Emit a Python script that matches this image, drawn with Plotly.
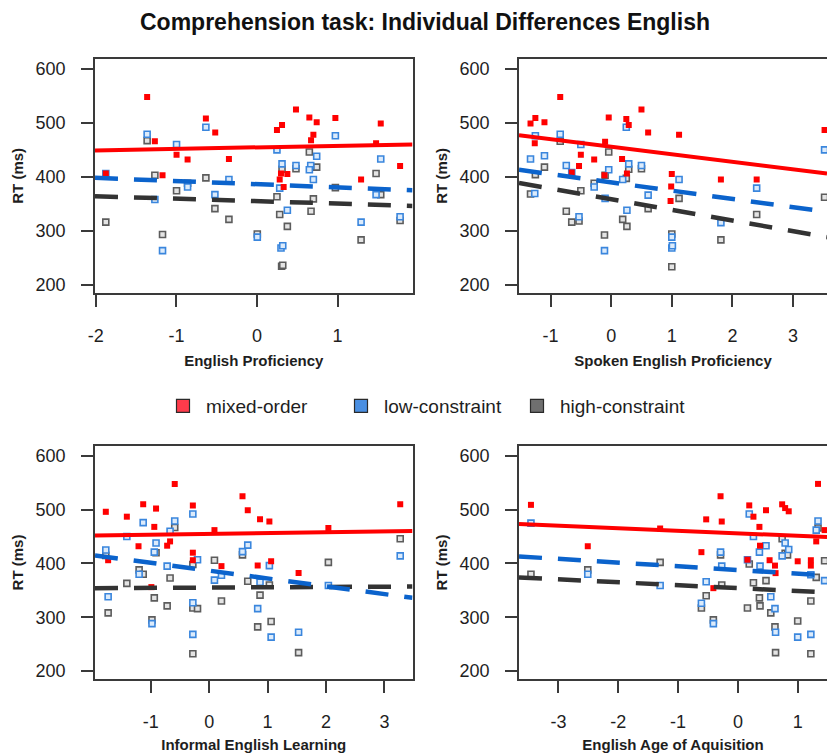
import plotly.graph_objects as go

W, H = 827, 753
FONT = "Liberation Sans, Arial, sans-serif"

# ---------------- data ----------------
title = "Comprehension task: Individual Differences English"
series_names = ["mixed-order", "low-constraint", "high-constraint"]
x_titles = ["English Proficiency", "Spoken English Proficiency",
            "Informal English Learning", "English Age of Aquisition"]
y_title = "RT (ms)"
y_ticks = [200, 300, 400, 500, 600]
x_ticks = [[-2, -1, 0, 1], [-1, 0, 1, 2, 3], [-1, 0, 1, 2, 3], [-3, -2, -1, 0, 1]]
x_ranges = [[-2.01, 1.93], [-1.52, 3.56], [-1.955, 3.48], [-3.66, 1.49]]
y_range = [185, 618.5]

# Panel 1: English Proficiency
p1_red_x = [-1.363, -1.267, -0.634, -0.518, -0.998, -0.861, -1.172, -0.348, -1.876, 0.248, 0.311, 0.484, 0.650,
            0.741, 0.700, 0.671, 0.973, 1.536, 1.478, 1.776, 1.292, 0.282, 0.298, 0.377, 0.331]
p1_red_y = [548, 466, 508, 482, 441, 432, 403, 433, 406, 487, 496, 525, 510, 501, 478, 468, 509, 499, 462, 420,
            395, 395, 406, 405, 381]
p1_blue_x = [-1.876, -1.363, -0.998, -0.634, -0.861, -1.267, -0.522, -0.348, -1.172, 0.004, 0.248, 0.311, 0.484,
             0.667, 0.650, 0.741, 0.700, 0.973, 1.536, 1.478, 1.776, 1.292, 0.282, 0.377, 0.298, 0.320]
p1_blue_y = [406, 479, 460, 492, 381, 358, 367, 395, 263, 288, 450, 424, 421, 421, 413, 438, 395, 476, 433, 367,
             326, 316, 379, 338, 268, 272]
p1_gray_x = [-1.363, -1.267, -1.876, -1.172, -0.861, -0.998, -0.634, -0.522, -0.348, 0.004, 0.248, 0.311, 0.282,
             0.377, 0.306, 0.320, 0.484, 0.650, 0.741, 0.700, 0.671, 0.973, 1.478, 1.536, 1.776, 1.292]
p1_gray_y = [467, 403, 316, 293, 388, 374, 398, 341, 321, 294, 363, 414, 330, 308, 234, 236, 415, 446, 418, 359,
             336, 380, 406, 367, 319, 283]
p1_fit_x = [-2.01, 1.93]
p1_fit_red = [449, 460]
p1_fit_blue = [398, 375]
p1_fit_gray = [364, 346]

# Panel 2: Spoken English Proficiency
p2_red_x = [-0.84, -1.33, -1.25, -1.10, -1.26, -0.50, -0.53, -0.28, -0.65, -0.10, -0.04, -0.11, 0.25, 0.29, 0.18,
            0.26, 0.50, 0.61, 1.12, 1.00, 0.99, 0.98, 1.81, 2.40, 3.52]
p2_red_y = [548, 499, 509, 501, 462, 441, 420, 432, 408, 465, 510, 403, 507, 496, 433, 406, 525, 482, 478, 405,
            382, 355, 395, 395, 487]
p2_blue_x = [-1.33, -1.25, -1.10, -1.26, -0.84, -0.74, -0.65, -0.50, -0.53, -0.28, -0.04, -0.10, -0.11, 0.25, 0.29,
             0.19, 0.26, 0.50, 0.61, 1.12, 1.00, 1.00, 1.01, 1.81, 2.40, 3.52]
p2_blue_y = [433, 476, 439, 369, 479, 421, 408, 460, 326, 381, 413, 360, 263, 492, 424, 395, 338, 421, 366, 395,
             288, 268, 272, 315, 379, 450]
p2_gray_x = [-1.33, -1.25, -1.10, -0.84, -0.74, -0.65, -0.53, -0.50, -0.28, -0.04, -0.11, -0.10, 0.19, 0.26, 0.25,
             0.29, 0.50, 0.61, 1.12, 1.00, 1.00, 1.81, 2.40, 3.52]
p2_gray_y = [368, 404, 418, 466, 336, 316, 318, 374, 388, 446, 292, 403, 321, 308, 397, 414, 415, 341, 360, 294,
             233, 283, 330, 362]
p2_fit_x = [-1.52, 3.56]
p2_fit_red = [477, 406]
p2_fit_blue = [413, 335]
p2_fit_gray = [388.5, 288]

# Panel 3: Informal English Learning
p3_red_x = [-1.77, -1.41, -1.13, -0.91, -0.94, -1.21, -0.59, -0.67, -0.72, -0.28, -0.28, -0.28, -1.73, 0.09, 0.21,
            0.57, 0.66, 0.87, 1.03, 0.83, 1.06, 1.53, 2.04, 3.27, -0.99]
p3_red_y = [496, 487, 510, 502, 468, 432, 548, 441, 433, 508, 420, 406, 406, 462, 395, 525, 499, 482, 478, 396,
            404, 382, 466, 510, 356]
p3_blue_x = [-1.77, -1.73, -1.41, -1.13, -1.20, -0.91, -0.94, -0.98, -0.67, -0.59, -0.72, -0.28, -0.20, -0.28,
             -0.28, 0.09, 0.21, 0.66, 0.57, 0.87, 0.83, 1.03, 1.06, 1.53, 2.04, 3.27]
p3_blue_y = [425, 338, 450, 476, 380, 438, 421, 288, 460, 479, 395, 492, 407, 327, 268, 369, 378, 434, 422, 365,
             316, 396, 263, 272, 359, 414]
p3_gray_x = [-1.77, -1.73, -1.41, -1.20, -1.13, -0.94, -0.98, -0.91, -0.72, -0.67, -0.59, -0.28, -0.28, -0.20,
             -0.28, 0.09, 0.21, 0.57, 0.66, 0.87, 0.83, 1.03, 1.06, 1.53, 2.04, 3.27]
p3_gray_y = [415, 308, 363, 388, 380, 336, 295, 420, 321, 373, 467, 398, 317, 316, 232, 406, 330, 416, 367, 341,
             282, 360, 292, 234, 402, 446]
p3_fit_x = [-1.955, 3.48]
p3_fit_red = [452, 460.5]
p3_fit_blue = [415, 336]
p3_fit_gray = [354, 357]

# Panel 4: English Age of Aquisition
p4_red_x = [-3.46, -2.51, -1.30, -0.53, -0.61, -0.29, -0.27, -0.41, 0.19, 0.26, 0.47, 0.36, 0.37, 0.16, 0.53,
            0.62, 0.63, 0.74, 0.79, 0.85, 1.00, 1.22, 1.22, 1.34, 1.31, 1.45]
p4_red_y = [509, 432, 465, 482, 421, 525, 478, 354, 508, 487, 499, 468, 433, 407, 406, 396, 382, 510, 503, 497,
            404, 406, 396, 548, 441, 462]
p4_blue_x = [-3.46, -2.51, -1.30, -0.61, -0.53, -0.41, -0.29, -0.27, 0.19, 0.26, 0.16, 0.36, 0.47, 0.37, 0.55,
             0.62, 0.63, 0.74, 0.79, 0.85, 1.00, 1.22, 1.22, 1.34, 1.31, 1.45]
p4_blue_y = [475, 380, 359, 326, 366, 288, 421, 395, 492, 450, 407, 421, 433, 395, 338, 316, 272, 414, 438, 426,
             263, 268, 379, 479, 462, 368]
p4_gray_x = [-3.46, -2.51, -1.30, -0.61, -0.53, -0.41, -0.29, -0.27, 0.16, 0.19, 0.26, 0.36, 0.37, 0.47, 0.55,
             0.62, 0.63, 0.74, 0.79, 0.83, 1.00, 1.22, 1.22, 1.31, 1.34, 1.45]
p4_gray_y = [380, 388, 402, 317, 340, 295, 416, 360, 317, 399, 364, 336, 321, 368, 308, 282, 234, 446, 419, 416,
             293, 232, 330, 374, 466, 405]
p4_fit_x = [-3.66, 1.49]
p4_fit_red = [473.5, 449]
p4_fit_blue = [413, 377.5]
p4_fit_gray = [374, 346]

panels = [
    (p1_red_x, p1_red_y, p1_blue_x, p1_blue_y, p1_gray_x, p1_gray_y, p1_fit_x, p1_fit_red, p1_fit_blue, p1_fit_gray),
    (p2_red_x, p2_red_y, p2_blue_x, p2_blue_y, p2_gray_x, p2_gray_y, p2_fit_x, p2_fit_red, p2_fit_blue, p2_fit_gray),
    (p3_red_x, p3_red_y, p3_blue_x, p3_blue_y, p3_gray_x, p3_gray_y, p3_fit_x, p3_fit_red, p3_fit_blue, p3_fit_gray),
    (p4_red_x, p4_red_y, p4_blue_x, p4_blue_y, p4_gray_x, p4_gray_y, p4_fit_x, p4_fit_red, p4_fit_blue, p4_fit_gray),
]

# ---------------- styling ----------------
RED = "#ff0000"
BLUE_PT = "#3a86dd"
GRAY_PT = "#5c5c5c"
BLUE_LN = "#0b63cc"
GRAY_LN = "#333333"
AX = "#3a3a3a"
TXT = "#1e1e1e"

# panel boxes in pixels: (left, right, top, bottom)
boxes = [(95, 412.5, 59, 292.7), (519, 827, 59, 292.7),
         (95, 412.5, 446, 679), (519, 827, 446, 679)]

fig = go.Figure()

for i, (rx, ry, bx, by, gx, gy, fx, fr, fb, fg) in enumerate(panels):
    xa = "x" if i == 0 else f"x{i+1}"
    ya = "y" if i == 0 else f"y{i+1}"
    fig.add_trace(go.Scatter(x=gx, y=gy, mode="markers", xaxis=xa, yaxis=ya, showlegend=False,
                             marker=dict(symbol="square", size=6, color="#e4e4e4",
                                         line=dict(color=GRAY_PT, width=1.6))))
    fig.add_trace(go.Scatter(x=bx, y=by, mode="markers", xaxis=xa, yaxis=ya, showlegend=False,
                             marker=dict(symbol="square", size=6, color="#dcebfb",
                                         line=dict(color=BLUE_PT, width=1.6))))
    fig.add_trace(go.Scatter(x=rx, y=ry, mode="markers", xaxis=xa, yaxis=ya, showlegend=False,
                             marker=dict(symbol="square", size=6, color=RED, line=dict(width=0))))
    fig.add_trace(go.Scatter(x=fx, y=fg, mode="lines", xaxis=xa, yaxis=ya, showlegend=False,
                             line=dict(color=GRAY_LN, width=4.5, dash="23px,16px")))
    fig.add_trace(go.Scatter(x=fx, y=fb, mode="lines", xaxis=xa, yaxis=ya, showlegend=False,
                             line=dict(color=BLUE_LN, width=4.5, dash="23px,16px")))
    fig.add_trace(go.Scatter(x=fx, y=fr, mode="lines", xaxis=xa, yaxis=ya, showlegend=False,
                             line=dict(color=RED, width=4)))

# legend-only traces
leg_colors = ["#ff3b4b", "#4a8fe2", "#6f6f6f"]
leg_ids = ["legend", "legend2", "legend3"]
for name, col, lid in zip(series_names, leg_colors, leg_ids):
    fig.add_trace(go.Scatter(x=[None], y=[None], mode="markers", name=name, legend=lid,
                             marker=dict(symbol="square", size=13, color=col,
                                         line=dict(color="#2a2a2a", width=1.2))))

layout = dict(
    width=W, height=H,
    margin=dict(l=0, r=0, t=0, b=0),
    paper_bgcolor="white", plot_bgcolor="white",
    font=dict(family=FONT, color=TXT),
    title=dict(text=f"<b>{title}</b>", x=425 / W, xanchor="center", y=1 - 22 / H, yanchor="middle",
               yref="container", xref="container", font=dict(size=23, family=FONT, color="#111")),
)

leg_text_x = [206, 384, 560]
for lid, tx in zip(leg_ids, leg_text_x):
    layout[lid] = dict(x=(tx - 46) / W, xanchor="left", y=1 - 406 / H, yanchor="middle",
                       orientation="h", itemwidth=36, bgcolor="rgba(0,0,0,0)", borderwidth=0,
                       font=dict(size=19, family=FONT, color=TXT))

for i, (l, r, t, b) in enumerate(boxes):
    xkey = "xaxis" if i == 0 else f"xaxis{i+1}"
    ykey = "yaxis" if i == 0 else f"yaxis{i+1}"
    xa_anchor = "y" if i == 0 else f"y{i+1}"
    ya_anchor = "x" if i == 0 else f"x{i+1}"
    layout[xkey] = dict(
        domain=[l / W, min(r / W, 1.0)], anchor=xa_anchor, range=x_ranges[i],
        tickmode="array", tickvals=x_ticks[i], ticktext=[str(v) for v in x_ticks[i]],
        showgrid=False, zeroline=False, showline=True, mirror=True, linecolor=AX, linewidth=1.6,
        ticks="outside", ticklen=12, tickwidth=1.6, tickcolor=AX, ticklabelstandoff=14,
        tickfont=dict(size=18, family=FONT, color=TXT), automargin=False,
        title=dict(text=f"<b>{x_titles[i]}</b>", standoff=10, font=dict(size=15, family=FONT, color=TXT)),
    )
    layout[ykey] = dict(
        domain=[1 - b / H, 1 - t / H], anchor=ya_anchor, range=y_range,
        tickmode="array", tickvals=y_ticks, ticktext=[str(v) for v in y_ticks],
        showgrid=False, zeroline=False, showline=True, mirror=(i in (0, 2)), linecolor=AX, linewidth=1.6,
        ticks="outside", ticklen=12, tickwidth=1.6, tickcolor=AX, ticklabelstandoff=12,
        tickfont=dict(size=18, family=FONT, color=TXT), automargin=False,
        title=dict(text=f"<b>{y_title}</b>", standoff=8, font=dict(size=15, family=FONT, color=TXT)),
    )

fig.update_layout(**layout)
fig.write_html("out.html")
